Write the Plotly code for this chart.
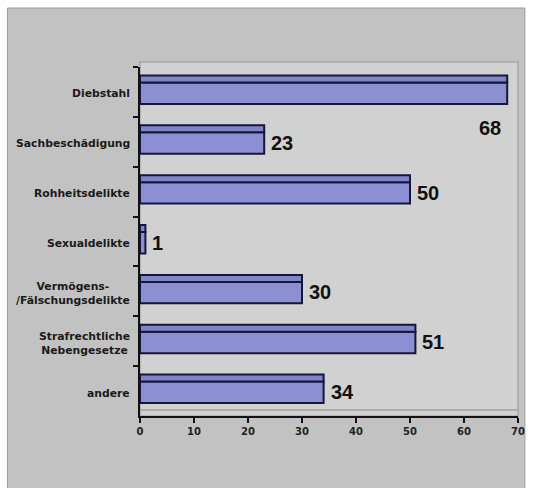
import plotly.graph_objects as go

categories = ["Diebstahl", "Sachbeschädigung", "Rohheitsdelikte", "Sexualdelikte",
              "Vermögens-<br>/Fälschungsdelikte", "Strafrechtliche<br>Nebengesetze", "andere"]
values = [68, 23, 50, 1, 30, 51, 34]
x_ticks = [0, 10, 20, 30, 40, 50, 60, 70]

W, H = 534, 488
L, R, T, B = 140, 9, 67, 72
pw, ph = W - L - R, H - T - B

def px(x):
    return (x - L) / pw

def py(y):
    return (H - B - y) / ph

bar_fill = "#8c90d2"
bar_line = "#15163a"

fig = go.Figure()
# main bar body
fig.add_trace(go.Bar(
    y=categories, x=values, orientation="h",
    width=0.43, offset=-0.19,
    marker=dict(color=bar_fill, line=dict(color=bar_line, width=2)),
    hoverinfo="skip", showlegend=False,
))
# top (3D) strip
fig.add_trace(go.Bar(
    y=categories, x=values, orientation="h",
    width=0.14, offset=-0.33,
    marker=dict(color="#8085c6", line=dict(color=bar_line, width=2)),
    hoverinfo="skip", showlegend=False,
))

annotations = []
for c, v in zip(categories, values):
    if v == max(values):
        annotations.append(dict(x=v, y=c, xref="x", yref="y", text=f"<b>{v}</b>",
                                showarrow=False, xanchor="right", yanchor="middle",
                                xshift=-4, yshift=-36,
                                font=dict(family="Liberation Sans, Arial", size=20, color="#111")))
    else:
        annotations.append(dict(x=v, y=c, xref="x", yref="y", text=f"<b>{v}</b>",
                                showarrow=False, xanchor="left", yanchor="middle",
                                xshift=5, yshift=-1,
                                font=dict(family="Liberation Sans, Arial", size=20, color="#111")))
    annotations.append(dict(x=0, y=c, xref="paper", yref="y", text=f"<b>{c}</b>",
                            showarrow=False, xanchor="right", yanchor="middle", align="center",
                            xshift=-8, yshift=-2,
                            font=dict(family="DejaVu Sans", size=10.8, color="#1a1a1a")))

shapes = [
    # outer chart area
    dict(type="rect", xref="paper", yref="paper", layer="below",
         x0=px(5), x1=px(532), y0=py(490), y1=py(8),
         fillcolor="#c2c2c2", line=dict(color="#9a9a9a", width=1)),
    # wall
    dict(type="rect", xref="paper", yref="paper", layer="below",
         x0=px(140), x1=px(525), y0=py(416), y1=py(62),
         fillcolor="#d1d1d1", line=dict(color="#a8a8a8", width=1.5)),
    # floor line
    dict(type="line", xref="paper", yref="paper", layer="below",
         x0=px(140), x1=px(525), y0=py(410), y1=py(410),
         line=dict(color="#a0a0a0", width=1.5)),
]

fig.update_layout(
    width=W, height=H,
    margin=dict(l=L, r=R, t=T, b=B),
    paper_bgcolor="white",
    plot_bgcolor="rgba(0,0,0,0)",
    barmode="overlay",
    showlegend=False,
    annotations=annotations,
    shapes=shapes,
    xaxis=dict(range=[0, 70], tickvals=x_ticks, ticktext=[f"<b>{t}</b>" for t in x_ticks],
               showgrid=False, zeroline=False, showline=True, linecolor="#111", linewidth=2,
               ticks="outside", ticklen=5, tickwidth=2, tickcolor="#111",
               tickfont=dict(family="DejaVu Sans", size=10, color="#222")),
    yaxis=dict(range=[6.5, -0.5], showticklabels=False, type="category",
               tickson="boundaries", ticks="outside", ticklen=5, tickwidth=2, tickcolor="#111",
               showgrid=False, zeroline=False, showline=True, linecolor="#111", linewidth=2),
)

fig.write_html("out.html")
